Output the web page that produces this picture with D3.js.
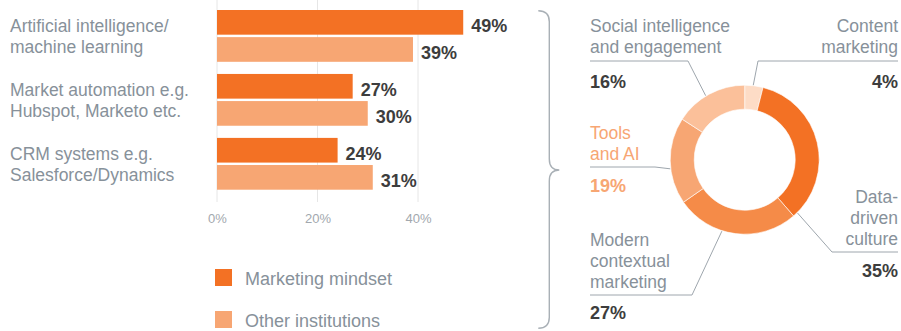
<!DOCTYPE html>
<html>
<head>
<meta charset="utf-8">
<script src="https://cdn.jsdelivr.net/npm/d3@7"></script>
<style>
  body { margin: 0; background: #fff; }
  svg { display: block; font-family: "Liberation Sans", Arial, Helvetica, sans-serif; }
</style>
</head>
<body>
<svg id="chart" width="901" height="331"></svg>
<script>
// ---- data ----
const categories = [
  ["Artificial intelligence/", "machine learning"],
  ["Market automation e.g.", "Hubspot, Marketo etc."],
  ["CRM systems e.g.", "Salesforce/Dynamics"]
];
const seriesNames = ["Marketing mindset", "Other institutions"];
const mindsetValues = [49, 27, 24];
const otherValues = [39, 30, 31];
const xTickValues = [0, 20, 40];

const areaNames = [
  ["Content", "marketing"],
  ["Data-", "driven", "culture"],
  ["Modern", "contextual", "marketing"],
  ["Tools", "and AI"],
  ["Social intelligence", "and engagement"]
];
const areaValues = [4, 35, 27, 19, 16];

// ---- styles ----
const C_DARK = "#f37124";
const C_LIGHT = "#f7a673";
const sliceColors = ["#fddcc6", "#f37124", "#f58b48", "#f7a673", "#fbc09a"];
const GREY_TEXT = "#87919a";
const DARK_TEXT = "#3d3d3d";
const RULE = "#9ea6ad";
const LABEL_SIZE = 17.5;

const svg = d3.select("#chart");

// ---- grouped horizontal bars ----
const x = d3.scaleLinear().domain([0, 40]).range([217, 418]);
const y = d3.scaleBand().domain(d3.range(categories.length))
  .range([10, 189.7]).paddingInner(0.19).paddingOuter(0);
const ySub = d3.scaleBand().domain([0, 1]).range([0, y.bandwidth()]).paddingInner(0.09);

// grid lines
svg.append("g").selectAll("line").data(xTickValues).join("line")
  .attr("x1", d => x(d)).attr("x2", d => x(d))
  .attr("y1", 0).attr("y2", 202)
  .attr("stroke", "#e6e6e6").attr("stroke-width", 1);

// axis labels
const axis = d3.axisBottom(x).tickValues(xTickValues).tickFormat(d => d + "%").tickSize(0).tickPadding(0);
const axisG = svg.append("g").attr("transform", "translate(0,211)").call(axis);
axisG.select(".domain").remove();
axisG.selectAll("text")
  .attr("font-family", "Liberation Sans, Arial, sans-serif")
  .attr("font-size", 13).attr("fill", "#a2a8ae").attr("dy", "0.95em");

const rows = categories.map((c, i) => ({ i, vals: [mindsetValues[i], otherValues[i]] }));
const groups = svg.append("g").selectAll("g").data(rows).join("g")
  .attr("transform", d => `translate(0,${y(d.i)})`);

groups.selectAll("rect").data(d => d.vals.map((v, s) => ({ v, s }))).join("rect")
  .attr("x", x(0))
  .attr("y", d => ySub(d.s))
  .attr("width", d => x(d.v) - x(0))
  .attr("height", ySub.bandwidth())
  .attr("fill", d => d.s === 0 ? C_DARK : C_LIGHT);

groups.selectAll("text.val").data(d => d.vals.map((v, s) => ({ v, s }))).join("text")
  .attr("class", "val")
  .attr("x", d => x(d.v) + 8)
  .attr("y", d => ySub(d.s) + ySub.bandwidth() / 2 + 10)
  .attr("font-size", 18).attr("font-weight", "bold").attr("fill", DARK_TEXT)
  .text(d => d.v + "%");

// category labels
groups.append("text")
  .attr("x", 10).attr("y", 22)
  .attr("font-size", LABEL_SIZE).attr("fill", GREY_TEXT)
  .selectAll("tspan").data(d => categories[d.i]).join("tspan")
  .attr("x", 10).attr("dy", (d, k) => k === 0 ? 0 : 21)
  .text(d => d);

// legend
const legend = svg.append("g").selectAll("g").data(seriesNames).join("g")
  .attr("transform", (d, i) => `translate(215,${269 + i * 42})`);
legend.append("rect").attr("width", 17).attr("height", 17)
  .attr("fill", (d, i) => i === 0 ? C_DARK : C_LIGHT);
legend.append("text").attr("x", 30).attr("y", 16)
  .attr("font-size", 18).attr("fill", GREY_TEXT).text(d => d);

// brace joining the bars to the breakdown
const braceX = 549.3, braceTop = 10.7, braceBot = 328.3, braceMid = 170, braceTip = 559.3, braceEnd = 538.3;
const brace = d3.path();
brace.moveTo(braceEnd, braceTop);
brace.quadraticCurveTo(braceX, braceTop, braceX, braceTop + 11);
brace.lineTo(braceX, braceMid - 11);
brace.quadraticCurveTo(braceX, braceMid, braceTip, braceMid);
brace.quadraticCurveTo(braceX, braceMid, braceX, braceMid + 11);
brace.lineTo(braceX, braceBot - 11);
brace.quadraticCurveTo(braceX, braceBot, braceEnd, braceBot);
svg.append("path").attr("d", brace.toString())
  .attr("fill", "none").attr("stroke", "#a9b0b6").attr("stroke-width", 1.4);

// ---- donut ----
const cx = 744.7, cy = 159.7, rOuter = 74.5, rInner = 50.5;
const pie = d3.pie().sort(null).value(d => d)(areaValues);
const arc = d3.arc().innerRadius(rInner).outerRadius(rOuter);
const donut = svg.append("g").attr("transform", `translate(${cx},${cy})`);
donut.selectAll("path").data(pie).join("path")
  .attr("d", arc)
  .attr("fill", (d, i) => sliceColors[i])
  .attr("stroke", "#fff").attr("stroke-width", 0.6);

// label placement for each slice
const labelLayout = [
  { anchor: "end",   tx: 898, base: 32,  ruleY: 61,  elbowX: 758, pctY: 88,  at: 0.46 },
  { anchor: "end",   tx: 898, base: 203, ruleY: 252, elbowX: 832, pctY: 277, at: 0.97 },
  { anchor: "start", tx: 590, base: 246, ruleY: 295, elbowX: 692, pctY: 319, at: 0.61 },
  { anchor: "start", tx: 590, base: 139, ruleY: 167, elbowX: 655, pctY: 192, at: 0.41 },
  { anchor: "start", tx: 590, base: 32,  ruleY: 61,  elbowX: 688, pctY: 88,  at: 0.45 }
];
const labelColors = [GREY_TEXT, GREY_TEXT, GREY_TEXT, C_LIGHT, GREY_TEXT];
const pctColors = [DARK_TEXT, DARK_TEXT, DARK_TEXT, C_LIGHT, DARK_TEXT];

const labels = svg.append("g").selectAll("g").data(pie).join("g");
labels.append("path")
  .attr("d", (d, i) => {
    const L = labelLayout[i];
    const a = d.startAngle + (d.endAngle - d.startAngle) * L.at;
    const px = cx + Math.sin(a) * (rOuter + 0.5);
    const py = cy - Math.cos(a) * (rOuter + 0.5);
    return d3.line()([[L.tx, L.ruleY], [L.elbowX, L.ruleY], [px, py]]);
  })
  .attr("fill", "none").attr("stroke", RULE).attr("stroke-width", 1);

labels.append("text")
  .attr("text-anchor", (d, i) => labelLayout[i].anchor)
  .attr("font-size", LABEL_SIZE)
  .attr("fill", (d, i) => labelColors[i])
  .attr("y", (d, i) => labelLayout[i].base)
  .selectAll("tspan").data((d, i) => areaNames[i].map(t => ({ t, i }))).join("tspan")
  .attr("x", d => labelLayout[d.i].tx)
  .attr("dy", (d, k) => k === 0 ? 0 : 21)
  .text(d => d.t);

labels.append("text")
  .attr("text-anchor", (d, i) => labelLayout[i].anchor)
  .attr("x", (d, i) => labelLayout[i].tx)
  .attr("y", (d, i) => labelLayout[i].pctY)
  .attr("font-size", 18).attr("font-weight", "bold")
  .attr("fill", (d, i) => pctColors[i])
  .text(d => d.data + "%");
</script>
</body>
</html>
